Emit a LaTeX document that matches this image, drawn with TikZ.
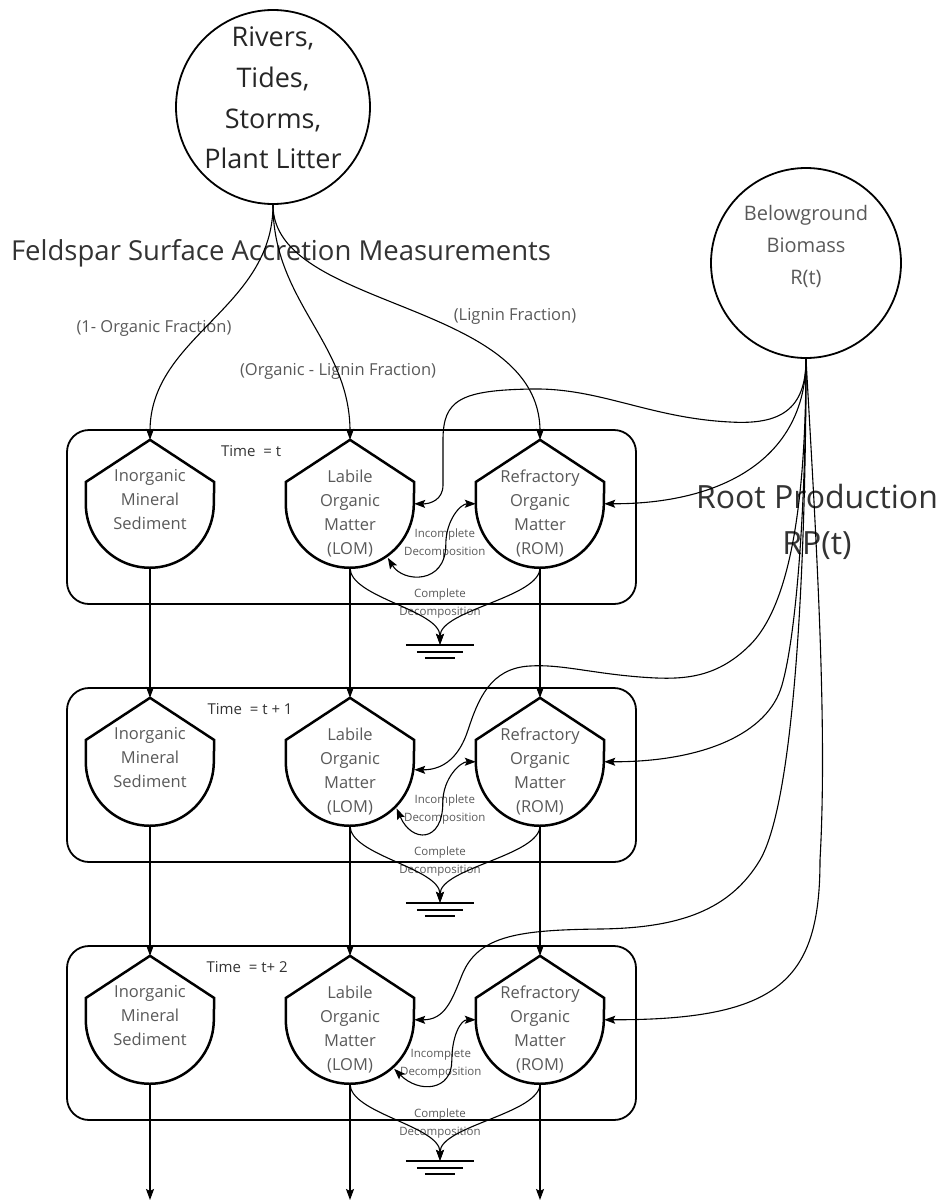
\documentclass[tikz,border=0pt]{standalone}
\usepackage{fontspec}
\setmainfont{Open Sans}
\usetikzlibrary{arrows.meta,positioning}
\definecolor{inkgray}{HTML}{333333}
\definecolor{txtgray}{HTML}{595959}
\tikzset{x=1pt, y=1pt, node distance=2cm, auto,
  conn/.style={draw=black, line width=1.1pt, -{Stealth[length=11pt,width=8pt,inset=2pt]}},
  twoway/.style={draw=black, line width=1.1pt, {Stealth[length=11pt,width=8pt,inset=2pt]}-{Stealth[length=11pt,width=8pt,inset=2pt]}},
  bigcircle/.style={circle, draw, line width=1.8pt, inner sep=0pt},
  timebox/.style={draw, line width=1.8pt, rounded corners=22pt, minimum width=569pt, minimum height=174pt},
  pool/.style={minimum width=128pt, minimum height=127.5pt, inner sep=0pt,
    append after command={\pgfextra{\draw[line width=2.5pt, line join=miter]
      (\tikzlastnode.north) -- ([yshift=21.75pt]\tikzlastnode.west) -- (\tikzlastnode.west)
      arc[start angle=180, end angle=360, radius=64pt]
      -- ([yshift=21.75pt]\tikzlastnode.east) -- cycle;}}},
  ground/.style={minimum width=68pt, minimum height=13pt, inner sep=0pt,
    append after command={\pgfextra{\draw[line width=2pt]
      (\tikzlastnode.north west) -- (\tikzlastnode.north east)
      ([xshift=11pt]\tikzlastnode.west) -- ([xshift=-11pt]\tikzlastnode.east)
      ([xshift=19pt]\tikzlastnode.south west) -- ([xshift=-19pt]\tikzlastnode.south east);}}},
  pooltext/.style={anchor=north, yshift=-29.5pt, inner sep=0pt, align=center, text=txtgray, font=\fontsize{16.5}{24}\selectfont},
  rivertext/.style={yshift=9pt, inner sep=0pt, align=center, text=black!85, font=\fontsize{27}{40.6}\selectfont},
  bbtext/.style={yshift=16.5pt, inner sep=0pt, align=center, text=txtgray, font=\fontsize{20}{32}\selectfont},
  titletext/.style={inner sep=0pt, text=inkgray, font=\fontsize{27.5}{33}\selectfont},
  roottext/.style={inner sep=0pt, align=center, text=inkgray, font=\fontsize{32}{46}\selectfont},
  fractext/.style={inner sep=0pt, text=txtgray, font=\fontsize{16.5}{18}\selectfont},
  timetext/.style={inner sep=0pt, text=inkgray, font=\fontsize{15}{18}\selectfont},
  decotext/.style={inner sep=0pt, align=center, text=txtgray, font=\fontsize{11.5}{18}\selectfont}
}

\begin{document}
\begin{tikzpicture}
  \useasboundingbox (0,0) rectangle (943,-1202);

  \node (rivers) [bigcircle, minimum size=194pt, label={[rivertext]center:{Rivers,\\Tides,\\Storms,\\Plant Litter}}] at (273,-107) {};
  \node (feldspar) [titletext] at (281,-253) {Feldspar Surface Accretion Measurements};
  \node (bb) [bigcircle, minimum size=190pt, label={[bbtext]center:{Belowground\\Biomass\\R(t)}}] at (806,-263) {};
  \node (rootprod) [roottext] at (817,-522) {Root Production\\RP(t)};

  \node (lbl1) [fractext] at (154,-328) {(1- Organic Fraction)};
  \node (lbl2) [fractext] at (338,-371) {(Organic - Lignin Fraction)};
  \node (lbl3) [fractext] at (515,-316) {(Lignin Fraction)};

  \node (time1) [timebox] at (351.5,-517) {};
  \node (time2) [timebox, below of=time1, node distance=258pt] {};
  \node (time3) [timebox, below of=time2, node distance=258pt] {};
  \node (tlabel1) [timetext] at ([xshift=185pt,yshift=-22pt]time1.north west) {Time\ \ = t};
  \node (tlabel2) [timetext] at ([xshift=184pt,yshift=-22pt]time2.north west) {Time\ \ = t + 1};
  \node (tlabel3) [timetext] at ([xshift=181pt,yshift=-22pt]time3.north west) {Time\ \ = t+ 2};

  \node (ims1) [pool, label={[pooltext]north:{Inorganic\\Mineral\\Sediment}}] at (150,-503.75) {};
  \node (lom1) [pool, right of=ims1, node distance=200pt, label={[pooltext]north:{Labile\\Organic\\Matter\\(LOM)}}] {};
  \node (rom1) [pool, right of=lom1, node distance=190pt, label={[pooltext]north:{Refractory\\Organic\\Matter\\(ROM)}}] {};
  \node (ims2) [pool, below of=ims1, node distance=258pt, label={[pooltext]north:{Inorganic\\Mineral\\Sediment}}] {};
  \node (lom2) [pool, below of=lom1, node distance=258pt, label={[pooltext]north:{Labile\\Organic\\Matter\\(LOM)}}] {};
  \node (rom2) [pool, below of=rom1, node distance=258pt, label={[pooltext]north:{Refractory\\Organic\\Matter\\(ROM)}}] {};
  \node (ims3) [pool, below of=ims2, node distance=258pt, label={[pooltext]north:{Inorganic\\Mineral\\Sediment}}] {};
  \node (lom3) [pool, below of=lom2, node distance=258pt, label={[pooltext]north:{Labile\\Organic\\Matter\\(LOM)}}] {};
  \node (rom3) [pool, below of=rom2, node distance=258pt, label={[pooltext]north:{Refractory\\Organic\\Matter\\(ROM)}}] {};

  \node (gnd1) [ground] at (440,-651.5) {};
  \node (gnd2) [ground, below of=gnd1, node distance=258pt] {};
  \node (gnd3) [ground, below of=gnd2, node distance=258pt] {};

  \node (idlabel1) [decotext] at ([xshift=-31pt,yshift=-40pt]rom1.west) {Incomplete\\Decomposition};
  \node (idlabel2) [decotext] at ([xshift=-31pt,yshift=-48pt]rom2.west) {Incomplete\\Decomposition};
  \node (idlabel3) [decotext] at ([xshift=-35pt,yshift=-44pt]rom3.west) {Incomplete\\Decomposition};
  \node (cdlabel1) [decotext, above=26pt of gnd1] {Complete\\Decomposition};
  \node (cdlabel2) [decotext, above=26pt of gnd2] {Complete\\Decomposition};
  \node (cdlabel3) [decotext, above=22pt of gnd3] {Complete\\Decomposition};

  \node (out1) [coordinate, below of=ims3, node distance=180.25pt] {};
  \node (out2) [coordinate, below of=lom3, node distance=180.25pt] {};
  \node (out3) [coordinate, below of=rom3, node distance=180.25pt] {};

  % inputs from the surface
  \draw[conn] (rivers.south) to[out=-90,in=90] (ims1.north);
  \draw[conn] (rivers.south) to[out=-90,in=90] (lom1.north);
  \draw[conn] (rivers.south) .. controls +(0,-105) and +(0,140) .. (rom1.north);

  % burial from one time step to the next
  \draw[conn] (ims1.south) -- (ims2.north);
  \draw[conn] (lom1.south) -- (lom2.north);
  \draw[conn] (rom1.south) -- (rom2.north);
  \draw[conn] (ims2.south) -- (ims3.north);
  \draw[conn] (lom2.south) -- (lom3.north);
  \draw[conn] (rom2.south) -- (rom3.north);
  \draw[conn] (ims3.south) -- (out1);
  \draw[conn] (lom3.south) -- (out2);
  \draw[conn] (rom3.south) -- (out3);

  % root production
  \draw[conn] (bb.south) .. controls (806,-410) and (780,-425) .. (730,-422)
    .. controls (650,-418) and (600,-388) .. (533,-389)
    .. controls (460,-390) and (443,-400) .. (443,-440) -- (443,-485)
    .. controls (443,-500) and (430,-504) .. (lom1.east);
  \draw[conn] (bb.south) .. controls (806,-460) and (720,-504) .. (rom1.east);
  \draw[conn] (bb.south) .. controls (806,-480) and (795,-600) .. (750,-645)
    .. controls (715,-680) and (680,-680) .. (640,-677)
    .. controls (590,-673) and (560,-664) .. (530,-666)
    .. controls (490,-668) and (478,-700) .. (468,-730)
    .. controls (460,-755) and (445,-770) .. ([yshift=-8pt]lom2.east);
  \draw[conn] (bb.south) .. controls (806,-520) and (795,-640) .. (782,-685)
    .. controls (768,-735) and (700,-762) .. (rom2.east);
  \draw[conn] (bb.south) .. controls (806,-560) and (795,-800) .. (760,-860)
    .. controls (730,-910) and (680,-928) .. (600,-929)
    .. controls (520,-930) and (478,-935) .. (462,-975)
    .. controls (452,-1000) and (445,-1020) .. (lom3.east);
  \draw[conn] (bb.south) .. controls (815,-520) and (828,-720) .. (820,-860)
    .. controls (820,-980) and (780,-1020) .. (rom3.east);

  % incomplete decomposition
  \draw[twoway] ([shift={(-55:66pt)}]lom1.center) .. controls +(15,-25) and +(0,-40) .. ([xshift=-30pt,yshift=-41pt]rom1.west) .. controls +(0,25) and +(-15,0) .. (rom1.west);
  \draw[twoway] ([shift={(-45:66pt)}]lom2.center) .. controls +(15,-35) and +(0,-40) .. ([xshift=-33pt,yshift=-41pt]rom2.west) .. controls +(0,25) and +(-15,0) .. (rom2.west);
  \draw[twoway] ([shift={(-48:66pt)}]lom3.center) .. controls +(25,-25) and +(0,-30) .. ([xshift=-24pt,yshift=-41pt]rom3.west) .. controls +(0,25) and +(-15,0) .. (rom3.west);

  % complete decomposition
  \draw[conn] (lom1.south) .. controls +(0,-30) and +(0,35) .. (gnd1.north);
  \draw[conn] (rom1.south) .. controls +(0,-30) and +(0,35) .. (gnd1.north);
  \draw[conn] (lom2.south) .. controls +(0,-30) and +(0,35) .. (gnd2.north);
  \draw[conn] (rom2.south) .. controls +(0,-30) and +(0,35) .. (gnd2.north);
  \draw[conn] (lom3.south) .. controls +(0,-30) and +(0,35) .. (gnd3.north);
  \draw[conn] (rom3.south) .. controls +(0,-30) and +(0,35) .. (gnd3.north);
\end{tikzpicture}
\end{document}
